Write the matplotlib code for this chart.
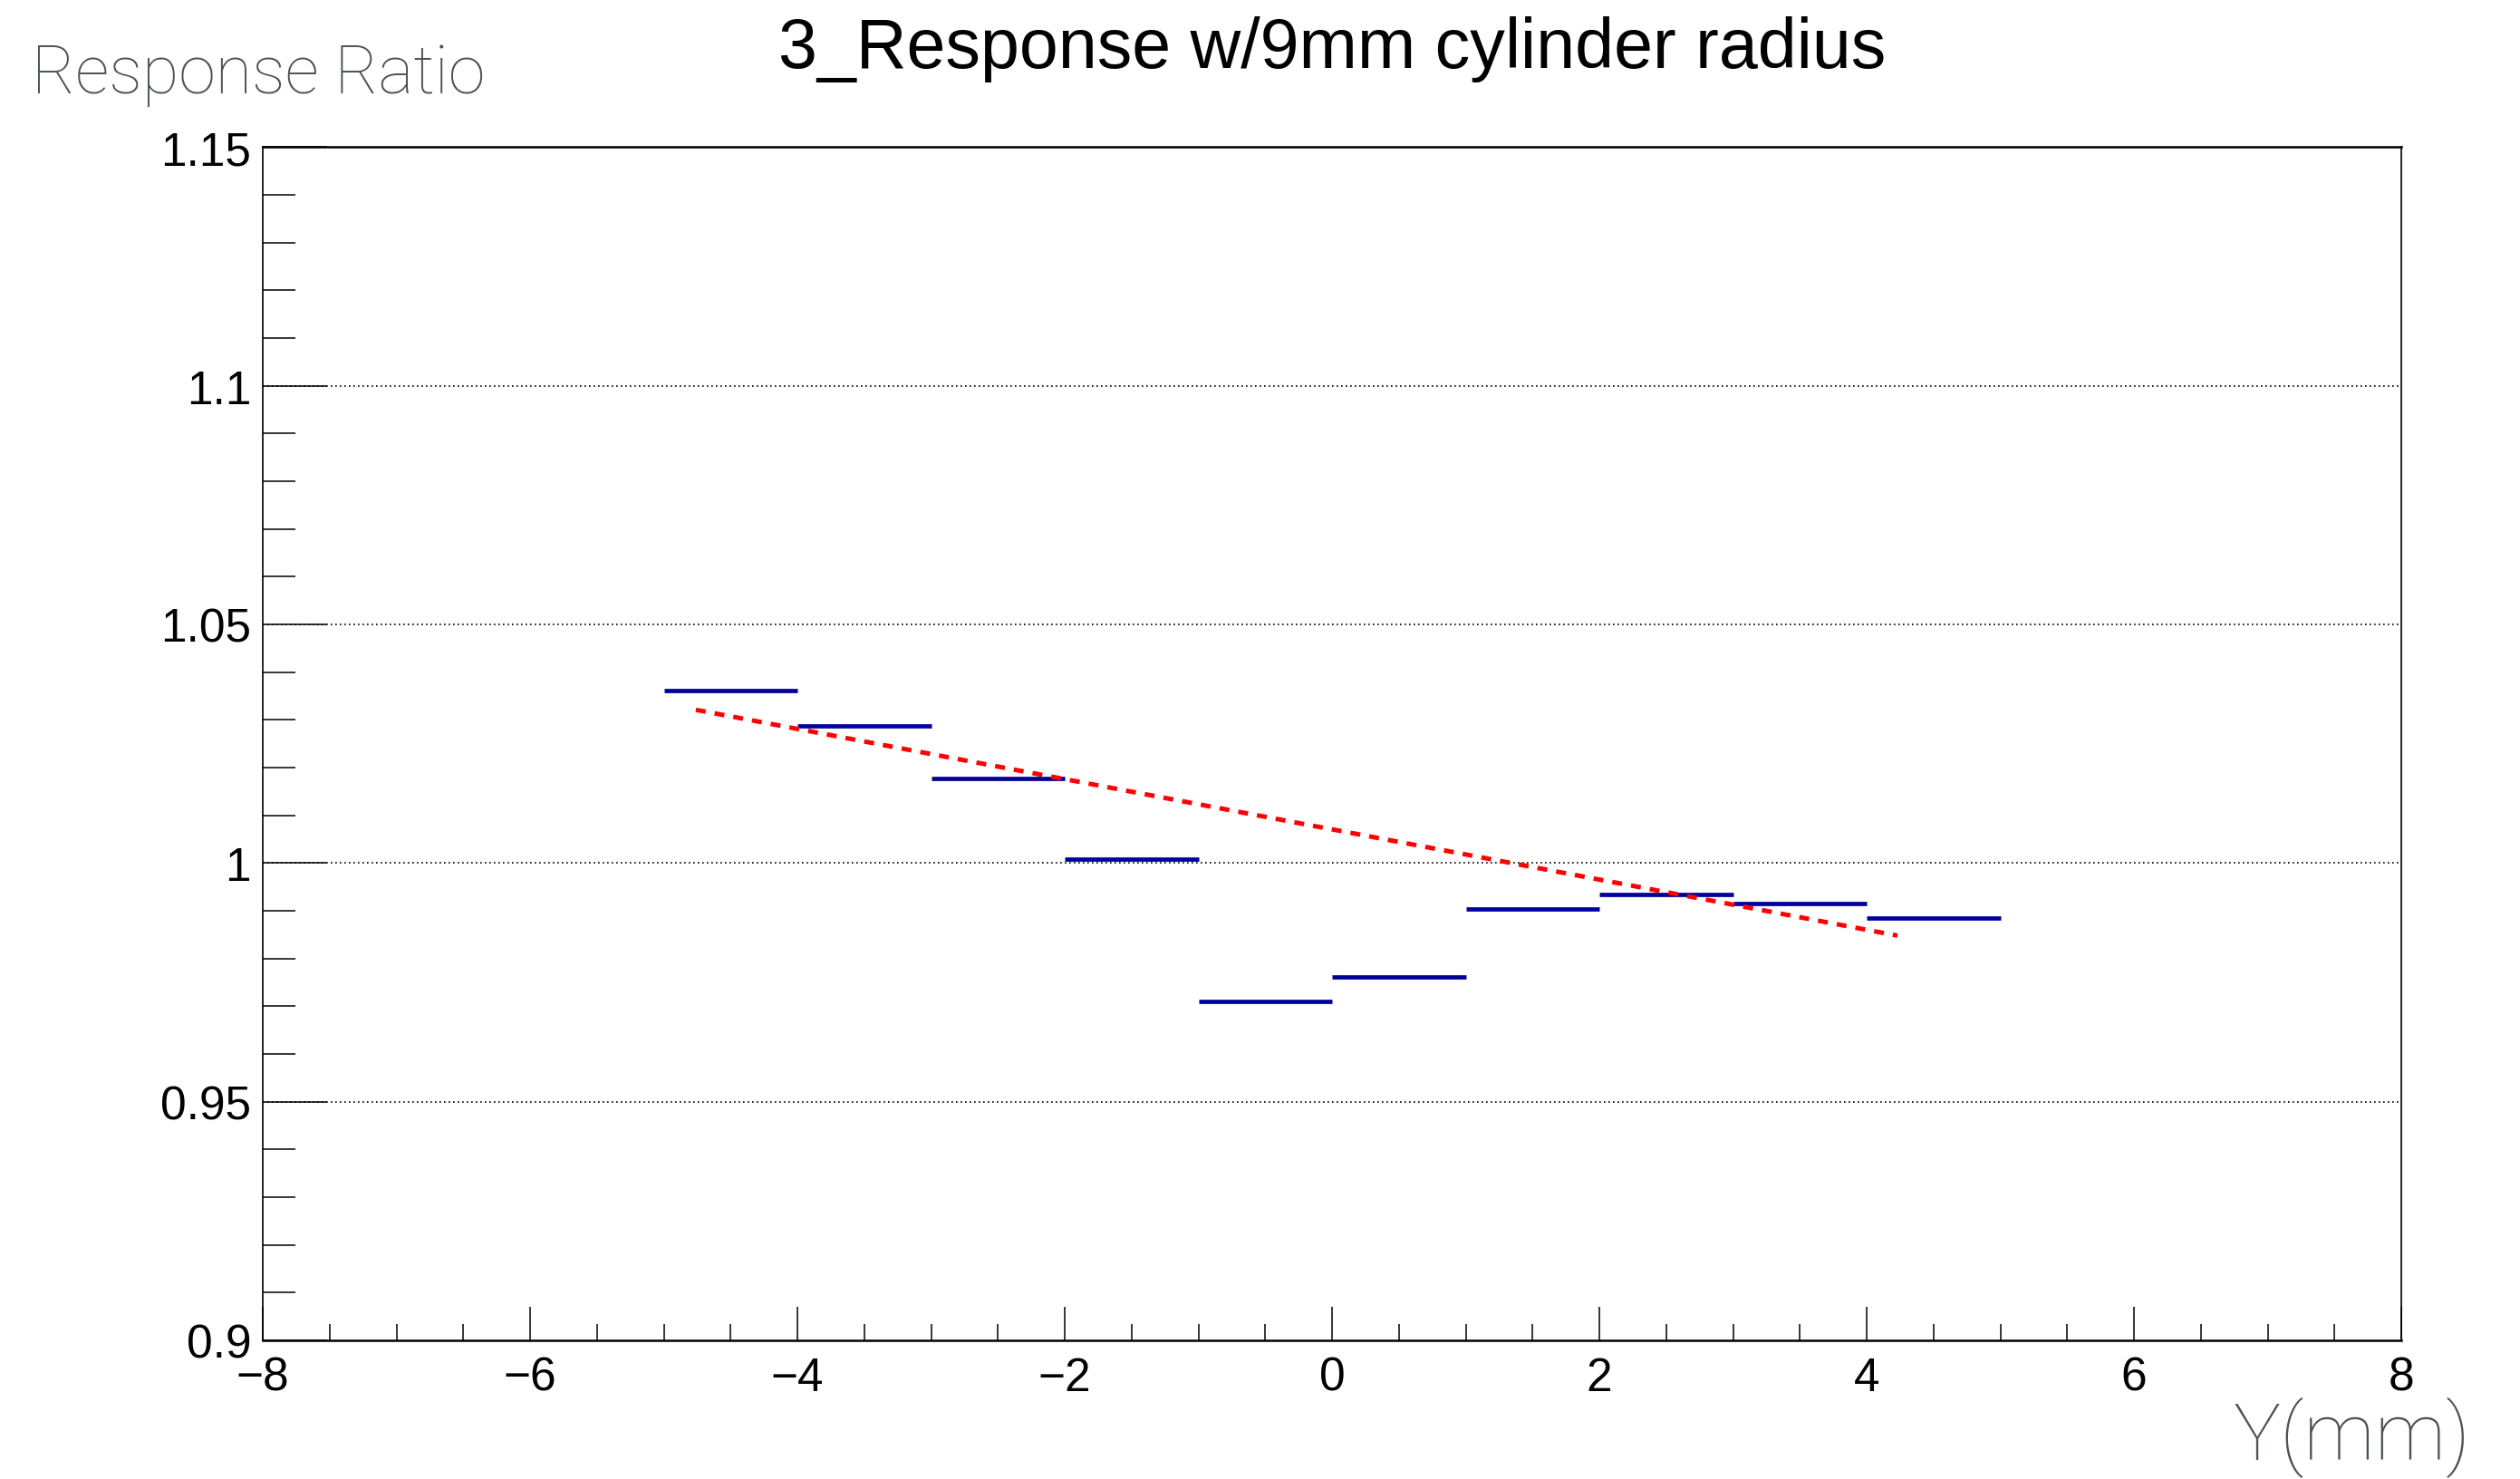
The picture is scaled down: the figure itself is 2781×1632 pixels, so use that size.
import matplotlib
matplotlib.use('Agg')
import matplotlib.pyplot as plt
import numpy as np

# histogram bins (mm) and response ratio per bin
bin_lo = [-5, -4, -3, -2, -1, 0, 1, 2, 3, 4]
bin_hi = [-4, -3, -2, -1, 0, 1, 2, 3, 4, 5]
ratio = [1.0361, 1.0287, 1.0178, 1.0008, 0.9710, 0.9761, 0.9903, 0.9935, 0.9915, 0.9884]

# linear fit
fit_x = [-4.76, 4.23]
fit_y = [1.0321, 0.9848]

ytick_vals = [0.9, 0.95, 1.0, 1.05, 1.1, 1.15]
ytick_labels = ['0.9', '0.95', '1', '1.05', '1.1', '1.15']
xtick_vals = [-8, -6, -4, -2, 0, 2, 4, 6, 8]

label_font = 'Liberation Sans'
thin_font = 'Roboto'
gray = '#4c5158'

fig = plt.figure(figsize=(27.81, 16.33), dpi=100)
ax = fig.add_axes([0.1043, 0.0937, 0.8486, 0.8063])

ax.set_xlim(-8, 8)
ax.set_ylim(0.9, 1.15)

# grid lines on major y ticks
for yv in ytick_vals[1:-1]:
    ax.axhline(yv, color='black', lw=1.2, ls=(0, (1.0, 2.0)), zorder=1)

ax.hlines(ratio, bin_lo, bin_hi, colors='#000099', lw=3.4, zorder=3)
ax.plot(fit_x, fit_y, color='#ff0000', lw=3.6, ls=(0, (2.2, 2.0)), zorder=4)

ax.set_yticks(ytick_vals)
ax.set_yticklabels(ytick_labels)
ax.set_yticks(np.arange(0.9, 1.1501, 0.01), minor=True)
ax.set_xticks(xtick_vals)
ax.set_xticklabels([str(v).replace('-', '\u2212') for v in xtick_vals])
ax.set_xticks(np.arange(-8, 8.01, 0.5), minor=True)

ax.tick_params(axis='y', which='major', direction='in', length=51, width=1.1,
               pad=9.4, labelsize=37, right=False)
ax.tick_params(axis='y', which='minor', direction='in', length=26, width=1.1, right=False)
ax.tick_params(axis='x', which='major', direction='in', length=27, width=1.1,
               pad=12, labelsize=37, top=False)
ax.tick_params(axis='x', which='minor', direction='in', length=13, width=1.1, top=False)
for lab in ax.get_xticklabels() + ax.get_yticklabels():
    lab.set_family(label_font)

for side in ['left', 'right', 'top', 'bottom']:
    ax.spines[side].set_linewidth(1.2)
ax.spines['bottom'].set_linewidth(1.8)
ax.spines['top'].set_linewidth(1.8)

fig.text(0.5285, 0.954, '3_Response w/9mm cylinder radius', ha='center', va='baseline',
         fontsize=55.5, family=label_font, color='black')
fig.text(0.0126, 0.937, 'Response Ratio', ha='left', va='baseline',
         fontsize=53, family=thin_font, fontweight='light', color=gray)
fig.text(0.9805, 0.0135, 'Y(mm)', ha='right', va='baseline',
         fontsize=63, family=thin_font, fontweight='light', color=gray)

fig.savefig('out.png', dpi=100)
